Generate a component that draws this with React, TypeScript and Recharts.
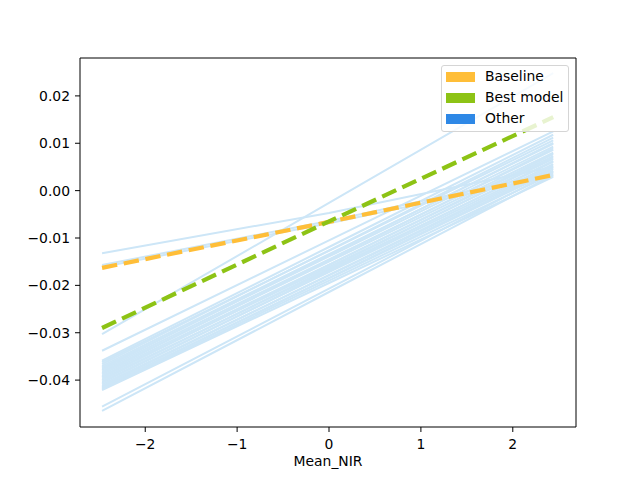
import { LineChart, Line, XAxis, YAxis, ReferenceLine } from 'recharts';

// x positions where each curve was read (left end, zero, right end)
const xValues = [-2.47, 0, 2.44];

const baseline = [-0.0163, -0.0066, 0.0033];
const bestModel = [-0.029, -0.0065, 0.0155];

// every "Other" curve as [left, middle, right]
const otherLines = [
  [-0.0132, -0.0047, 0.005],
  [-0.0157, -0.0064, 0.0038],
  [-0.0161, -0.0069, 0.0031],
  [-0.0303, -0.0026, 0.0248],
  [-0.0338, -0.0105, 0.0125],
  [-0.0359, -0.0119, 0.0118],
  [-0.0362, -0.0127, 0.0106],
  [-0.0366, -0.0126, 0.0112],
  [-0.037, -0.0134, 0.0099],
  [-0.0373, -0.0139, 0.0093],
  [-0.0376, -0.0136, 0.0101],
  [-0.0379, -0.0145, 0.0086],
  [-0.0382, -0.015, 0.008],
  [-0.0385, -0.0147, 0.0089],
  [-0.0388, -0.0156, 0.0073],
  [-0.0391, -0.0161, 0.0067],
  [-0.0394, -0.0157, 0.0077],
  [-0.0397, -0.0167, 0.0061],
  [-0.04, -0.0164, 0.007],
  [-0.0403, -0.0172, 0.0056],
  [-0.0406, -0.017, 0.0063],
  [-0.0409, -0.0179, 0.0049],
  [-0.0412, -0.0178, 0.0053],
  [-0.0415, -0.0185, 0.0042],
  [-0.0417, -0.0184, 0.0046],
  [-0.0419, -0.019, 0.0036],
  [-0.0421, -0.0195, 0.0029],
  [-0.0456, -0.0207, 0.004],
  [-0.0465, -0.0214, 0.0033],
];

const xTicks = [-2, -1, 0, 1, 2];
const yTicks = [-0.04, -0.03, -0.02, -0.01, 0, 0.01, 0.02];

const legendItems = [
  { label: 'Baseline', color: '#ffbe38' },
  { label: 'Best model', color: '#8dc315' },
  { label: 'Other', color: '#2e88e6' },
];

const X_DOMAIN: [number, number] = [-2.71, 2.688];
const Y_DOMAIN: [number, number] = [-0.0499, 0.028];

const data = xValues.map((x, i) => {
  const row: Record<string, number> = { x, baseline: baseline[i], best: bestModel[i] };
  otherLines.forEach((line, k) => {
    row['o' + k] = line[i];
  });
  return row;
});

const FONT = '"DejaVu Sans", sans-serif';
const tickStyle = { fontSize: 13.9, fill: '#000', fontFamily: FONT };
const minus = (s: string) => s.replace('-', '\u2212');

const App = () => {
  return (
    <div style={{ position: 'absolute', left: 0, top: 0, width: 640, height: 480, fontFamily: FONT }}>
      <LineChart width={640} height={480} data={data} margin={{ top: 58, right: 64, bottom: 13, left: 0 }}>
        <XAxis
          dataKey="x"
          type="number"
          domain={X_DOMAIN}
          ticks={xTicks}
          tickFormatter={(v) => minus(String(v))}
          tick={tickStyle}
          tickSize={5}
          tickMargin={7}
          height={40}
          axisLine={{ stroke: '#000' }}
          tickLine={{ stroke: '#000' }}
          allowDataOverflow
          label={{ value: 'Mean_NIR', position: 'insideBottom', offset: 1, style: tickStyle }}
        />
        <YAxis
          type="number"
          domain={Y_DOMAIN}
          ticks={yTicks}
          tickFormatter={(v) => minus(v.toFixed(2))}
          tick={tickStyle}
          tickSize={5}
          tickMargin={5}
          width={80}
          axisLine={{ stroke: '#000' }}
          tickLine={{ stroke: '#000' }}
          allowDataOverflow
        />
        {otherLines.map((_, k) => (
          <Line
            key={k}
            type="linear"
            dataKey={'o' + k}
            stroke="#cde6f7"
            strokeWidth={2}
            dot={false}
            isAnimationActive={false}
          />
        ))}
        <Line
          type="linear"
          dataKey="baseline"
          stroke="#ffbe38"
          strokeWidth={4.2}
          strokeDasharray="15.4 6.7"
          dot={false}
          isAnimationActive={false}
        />
        <Line
          type="linear"
          dataKey="best"
          stroke="#8dc315"
          strokeWidth={4.2}
          strokeDasharray="15.4 6.7"
          dot={false}
          isAnimationActive={false}
        />
        {/* top and right spines */}
        <ReferenceLine y={Y_DOMAIN[1]} stroke="#000" strokeWidth={1} />
        <ReferenceLine x={X_DOMAIN[1]} stroke="#000" strokeWidth={1} />
      </LineChart>

      <div
        style={{
          position: 'absolute',
          left: 441,
          top: 65,
          width: 128,
          height: 67,
          boxSizing: 'border-box',
          border: '1px solid #d5d5d5',
          borderRadius: 3,
          background: 'rgba(255,255,255,0.8)',
          paddingLeft: 4,
        }}
      >
        {legendItems.map((item) => (
          <div key={item.label} style={{ display: 'flex', alignItems: 'center', height: 21 }}>
            <span style={{ width: 29, height: 10, background: item.color, marginRight: 10 }} />
            <span style={{ fontSize: 13.9, color: '#000', lineHeight: '21px' }}>{item.label}</span>
          </div>
        ))}
      </div>
    </div>
  );
};

export default App;
